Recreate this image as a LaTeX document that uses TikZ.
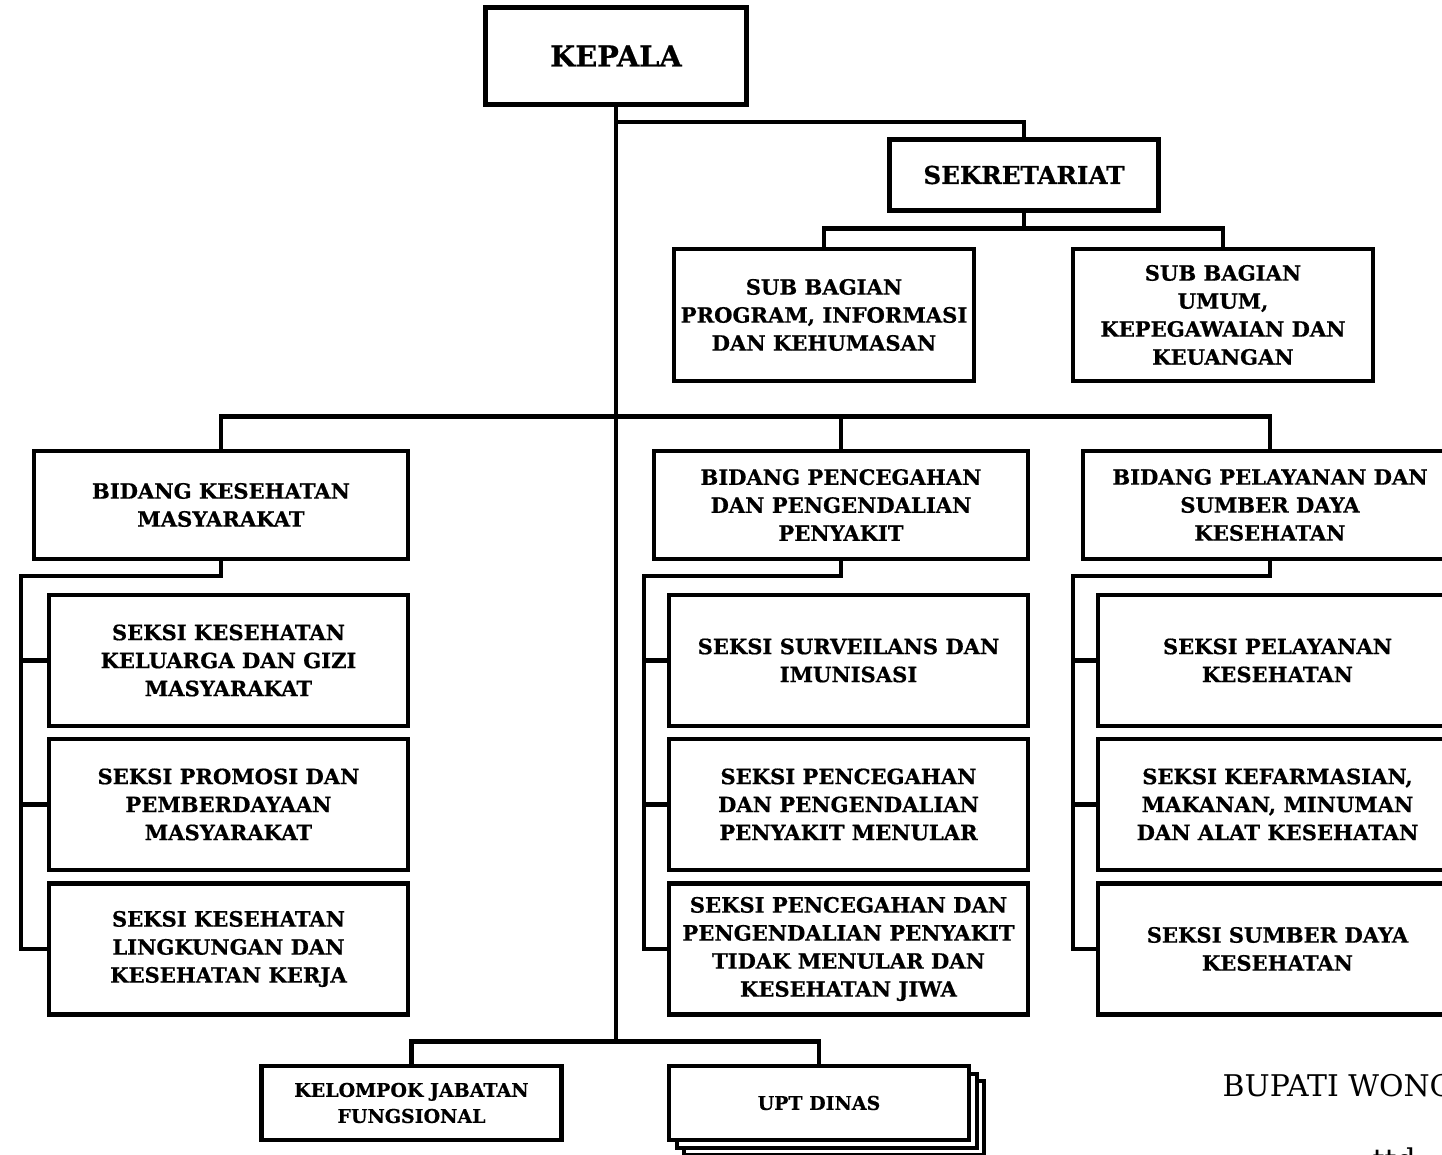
\documentclass[tikz,border=0pt]{standalone}
\usepackage{fontspec}
\setmainfont{DejaVu Serif}[BoldFeatures={FakeBold=0.6}]
\begin{document}
\begin{tikzpicture}[
    x=1cm, y=-1cm,
    box/.style={draw, line width=1.3pt, fill=white, align=center, inner sep=1pt,
                minimum width=3.59cm, minimum height=1.31cm,
                font=\bfseries\fontsize{6}{7.97}\selectfont},
    bid/.style={box, minimum width=3.74cm, minimum height=1.08cm},
    bawah/.style={box, minimum width=3.00cm, minimum height=0.74cm,
                font=\bfseries\fontsize{5.4}{7.4}\selectfont},
    cn/.style={line width=1.3pt},
  ]
  \useasboundingbox (0,0) rectangle (14.42,11.55);

  % --- vertice e segreteria ---
  \node[box, minimum width=2.61cm, minimum height=0.97cm,
        font=\bfseries\fontsize{8.2}{9}\selectfont] (kepala) at (6.16,0.56) {KEPALA};
  \node[box, minimum width=2.69cm, minimum height=0.71cm,
        font=\bfseries\fontsize{7}{8}\selectfont] (sekre) at (10.24,1.75) {SEKRETARIAT};

  \node[box, minimum width=3.00cm, minimum height=1.32cm] (subprog) at (8.24,3.15)
       {SUB BAGIAN\\PROGRAM, INFORMASI\\DAN KEHUMASAN};
  \node[box, minimum width=3.00cm, minimum height=1.32cm] (subumum) at (12.23,3.15)
       {SUB BAGIAN\\UMUM,\\KEPEGAWAIAN DAN\\KEUANGAN};

  % --- bidang ---
  \node[bid] (bkm) at (2.21,5.05) {BIDANG KESEHATAN\\MASYARAKAT};
  \node[bid] (bpp) at (8.41,5.05) {BIDANG PENCEGAHAN\\DAN PENGENDALIAN\\PENYAKIT};
  \node[bid] (bpl) at (12.70,5.05) {BIDANG PELAYANAN DAN\\SUMBER DAYA\\KESEHATAN};

  % --- seksi, colonna sinistra ---
  \node[box] (s11) at (2.285,6.605) {SEKSI KESEHATAN\\KELUARGA DAN GIZI\\MASYARAKAT};
  \node[box] (s12) at (2.285,8.045) {SEKSI PROMOSI DAN\\PEMBERDAYAAN\\MASYARAKAT};
  \node[box] (s13) at (2.285,9.49) {SEKSI KESEHATAN\\LINGKUNGAN DAN\\KESEHATAN KERJA};

  % --- seksi, colonna centrale ---
  \node[box] (s21) at (8.485,6.605) {SEKSI SURVEILANS DAN\\IMUNISASI};
  \node[box] (s22) at (8.485,8.045) {SEKSI PENCEGAHAN\\DAN PENGENDALIAN\\PENYAKIT MENULAR};
  \node[box] (s23) at (8.485,9.49)
       {SEKSI PENCEGAHAN DAN\\PENGENDALIAN PENYAKIT\\TIDAK MENULAR DAN\\KESEHATAN JIWA};

  % --- seksi, colonna destra ---
  \node[box] (s31) at (12.775,6.605) {SEKSI PELAYANAN\\KESEHATAN};
  \node[box] (s32) at (12.775,8.045) {SEKSI KEFARMASIAN,\\MAKANAN, MINUMAN\\DAN ALAT KESEHATAN};
  \node[box] (s33) at (12.775,9.49) {SEKSI SUMBER DAYA\\KESEHATAN};

  % --- in basso ---
  \node[bawah] (kjf) at (4.115,11.03) {KELOMPOK JABATAN\\FUNGSIONAL};
  \node[bawah] (upt3) at (8.34,11.18) {};
  \node[bawah] (upt2) at (8.27,11.11) {};
  \node[bawah] (upt) at (8.19,11.03) {UPT DINAS};

  % --- testo a margine ---
  \node[anchor=base west, inner sep=0pt, font=\fontsize{8.5}{10}\selectfont]
       (bupati) at (12.22,10.97) {BUPATI WONO};
  \node[anchor=base west, inner sep=0pt, font=\fontsize{8.5}{10}\selectfont]
       (ttd) at (13.72,11.71) {ttd};

  % --- punti di snodo ---
  \coordinate (sk) at (6.16,1.22);
  \coordinate (fine) at (6.16,10.42);
  \coordinate (lk1) at (0.21,5.76);
  \coordinate (lk2) at (6.44,5.76);
  \coordinate (lk3) at (10.73,5.76);

  % --- linee ---
  \draw[cn] (kepala.south) -- (fine);
  \draw[cn] (sk) -| (sekre.north);
  \draw[cn] (subprog.north) -- ++(0,-0.18) coordinate (sb) -| (subumum.north);
  \draw[cn] (sekre.south) -- (sekre.south |- sb);

  \draw[cn] (bkm.north) -- ++(0,-0.32) coordinate (bb) -| (bpl.north);
  \draw[cn] (bpp.north) -- (bpp.north |- bb);

  \draw[cn] (bkm.south) |- (lk1) -- (s13.west -| lk1) -- (s13.west);
  \draw[cn] (s11.west -| lk1) -- (s11.west);
  \draw[cn] (s12.west -| lk1) -- (s12.west);

  \draw[cn] (bpp.south) |- (lk2) -- (s23.west -| lk2) -- (s23.west);
  \draw[cn] (s21.west -| lk2) -- (s21.west);
  \draw[cn] (s22.west -| lk2) -- (s22.west);

  \draw[cn] (bpl.south) |- (lk3) -- (s33.west -| lk3) -- (s33.west);
  \draw[cn] (s31.west -| lk3) -- (s31.west);
  \draw[cn] (s32.west -| lk3) -- (s32.west);

  \draw[cn] (kjf.north) -- ++(0,-0.22) -| (upt.north);

\end{tikzpicture}
\end{document}
